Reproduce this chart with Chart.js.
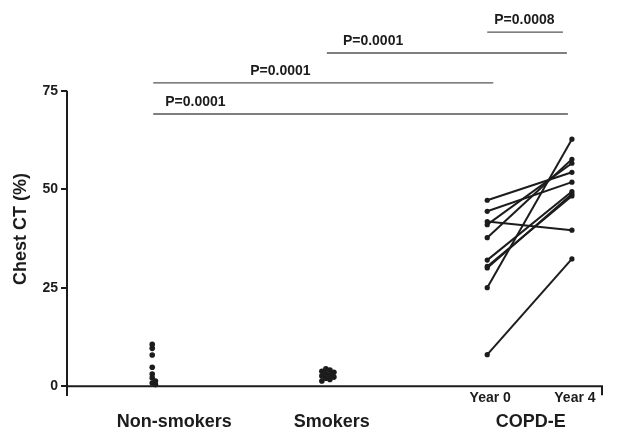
<!DOCTYPE html>
<html>
<head>
<meta charset="utf-8">
<title>Chest CT (%)</title>
<script src="https://cdn.jsdelivr.net/npm/chart.js@4"></script>
<style>
  html, body { margin: 0; padding: 0; background: #ffffff; }
  #wrap { width: 619px; height: 431px; }
</style>
</head>
<body>
<div id="wrap"><canvas id="chart" width="619" height="431"></canvas></div>
<script>
// Groups and visit labels
const groups = ['Non-smokers', 'Smokers', 'COPD-E'];
const copdVisits = ['Year 0', 'Year 4'];
const yTicks = [0, 25, 50, 75];

// Chest CT (%) per subject
const nonSmokers = [10.6, 9.6, 7.9, 4.8, 3.1, 2.1, 1.3, 0.8, 0.4];
const smokers = [4.4, 4.1, 3.8, 3.5, 3.2, 2.9, 2.6, 2.3, 2.0, 1.7, 1.3];
const copdYear0 = [47.2, 44.4, 41.8, 41.0, 37.7, 32.0, 30.4, 30.0, 25.0, 8.0];
const copdYear4 = [54.3, 51.8, 39.6, 56.6, 57.6, 49.4, 48.3, 48.8, 62.7, 32.3];

// Pairwise comparisons
const pLabels = ['P=0.0001', 'P=0.0001', 'P=0.0001', 'P=0.0008'];
const pFrom = ['Non-smokers', 'Non-smokers', 'Smokers', 'Year 0'];
const pTo = ['Year 4', 'Year 0', 'Year 4', 'Year 4'];

// Horizontal layout (x scale runs 0..100)
const slotX = { 'Non-smokers': 15.9, 'Smokers': 48.3, 'Year 0': 78.4, 'Year 4': 94.2 };
const groupLabelX = { 'Non-smokers': 20.0, 'Smokers': 49.4, 'COPD-E': 86.5 };

const INK = '#1c1c1c';
const FONT = "'Liberation Sans', Arial, Helvetica, sans-serif";

// Spread overlapping dots sideways, like a dot plot
function swarm(values, center, step, minGap) {
  const placed = [];
  const order = [0, 1, -1, 2, -2, 3, -3];
  return values.map(v => {
    for (const o of order) {
      if (!placed.some(p => p.o === o && Math.abs(p.v - v) < minGap)) {
        placed.push({ o, v });
        return { x: center + o * step, y: v };
      }
    }
    return { x: center, y: v };
  });
}

const dotStyle = {
  type: 'scatter',
  pointRadius: 2.8,
  pointHoverRadius: 2.8,
  pointBackgroundColor: INK,
  pointBorderWidth: 0,
  showLine: false
};

const datasets = [
  Object.assign({ label: groups[0], data: swarm(nonSmokers, slotX['Non-smokers'], 0.6, 0.9) }, dotStyle),
  Object.assign({ label: groups[1], data: swarm(smokers, slotX['Smokers'], 0.75, 1.1) }, dotStyle)
];

copdYear0.forEach((v0, i) => {
  datasets.push({
    type: 'scatter',
    label: groups[2] + ' ' + (i + 1),
    data: [{ x: slotX['Year 0'], y: v0 }, { x: slotX['Year 4'], y: copdYear4[i] }],
    showLine: true,
    borderColor: INK,
    borderWidth: 2,
    pointRadius: 2.6,
    pointHoverRadius: 2.6,
    pointBackgroundColor: INK,
    pointBorderWidth: 0
  });
});

// Axes, category labels and comparison bars
const framePlugin = {
  id: 'frame',
  afterDraw(chart) {
    const { ctx, chartArea } = chart;
    const xs = chart.scales.x, ys = chart.scales.y;
    const y0 = ys.getPixelForValue(0);
    ctx.save();
    ctx.strokeStyle = INK;
    ctx.lineWidth = 2;
    ctx.lineCap = 'butt';

    // y axis (up to the top tick) and x axis with a closing tick
    ctx.beginPath();
    ctx.moveTo(chartArea.left, ys.getPixelForValue(75));
    ctx.lineTo(chartArea.left, chartArea.bottom);
    ctx.moveTo(chartArea.left, y0);
    ctx.lineTo(chartArea.right, y0);
    ctx.moveTo(chartArea.right - 1, y0);
    ctx.lineTo(chartArea.right - 1, y0 + 9);
    ctx.stroke();

    ctx.fillStyle = INK;
    ctx.textAlign = 'center';
    ctx.textBaseline = 'middle';

    // visit labels
    ctx.font = 'bold 14px ' + FONT;
    copdVisits.forEach(v => ctx.fillText(v, xs.getPixelForValue(slotX[v]) + 3, y0 + 12));

    // group labels
    ctx.font = 'bold 18px ' + FONT;
    groups.forEach(g => ctx.fillText(g, xs.getPixelForValue(groupLabelX[g]), y0 + 36));

    // y axis title
    ctx.save();
    ctx.translate(21, 229);
    ctx.rotate(-Math.PI / 2);
    ctx.font = 'bold 18px ' + FONT;
    ctx.fillText('Chest CT (%)', 0, 0);
    ctx.restore();

    // comparison bars
    const opts = chart.options.plugins.frame;
    ctx.strokeStyle = '#555555';
    ctx.lineWidth = 1.4;
    ctx.font = 'bold 14px ' + FONT;
    ctx.textAlign = 'left';
    pLabels.forEach((lab, i) => {
      const xa = xs.getPixelForValue(slotX[pFrom[i]]) + opts.startTrim[i];
      const xb = xs.getPixelForValue(slotX[pTo[i]]) + opts.endTrim[i];
      const yb = ys.getPixelForValue(opts.levels[i]);
      ctx.beginPath();
      ctx.moveTo(xa, yb);
      ctx.lineTo(xb, yb);
      ctx.stroke();
      ctx.fillText(lab, xa + opts.labelInset[i], yb - 12);
    });
    ctx.restore();
  }
};

new Chart(document.getElementById('chart'), {
  type: 'scatter',
  data: { datasets },
  plugins: [framePlugin],
  options: {
    responsive: false,
    devicePixelRatio: 1,
    animation: false,
    events: [],
    layout: { padding: { top: 12, right: 16, bottom: 35, left: 0 } },
    plugins: {
      legend: { display: false },
      tooltip: { enabled: false },
      frame: {
        levels: [69.1, 77.0, 84.6, 89.9],
        startTrim: [1, 1, 1, 0],
        endTrim: [-4, 6, -5, -9],
        labelInset: [12, 97, 16, 7]
      }
    },
    scales: {
      x: {
        type: 'linear',
        min: 0,
        max: 100,
        display: false
      },
      y: {
        type: 'linear',
        min: -2.5,
        max: 95,
        afterFit(scale) { scale.width = 67; },
        afterBuildTicks(scale) { scale.ticks = yTicks.map(v => ({ value: v })); },
        border: { display: false },
        grid: {
          display: true,
          drawOnChartArea: false,
          drawTicks: true,
          tickLength: 6,
          color: INK,
          lineWidth: 2
        },
        ticks: {
          padding: 3,
          color: INK,
          font: { family: FONT, size: 14, weight: 'bold' }
        }
      }
    }
  }
});
</script>
</body>
</html>
